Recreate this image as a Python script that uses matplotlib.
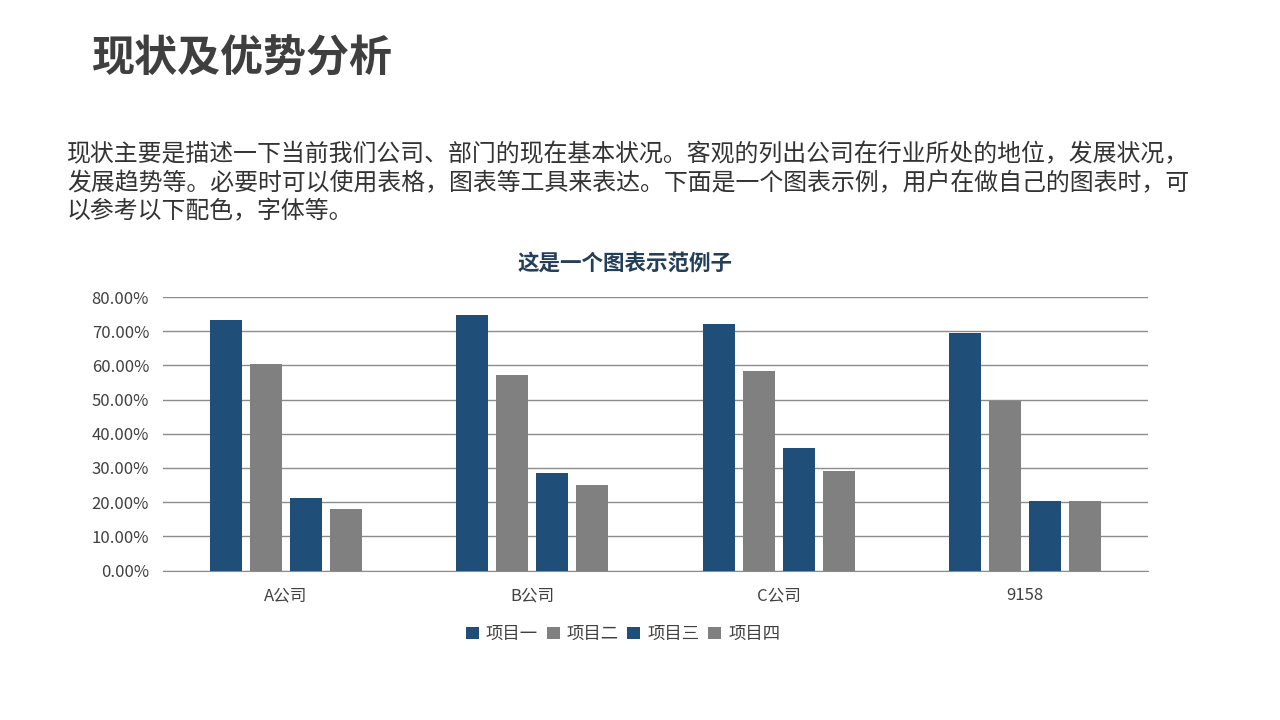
import matplotlib
matplotlib.use("Agg")
import matplotlib.pyplot as plt
import numpy as np
from matplotlib.ticker import FuncFormatter, MultipleLocator

plt.rcParams['font.family'] = ['Noto Sans CJK SC', 'DejaVu Sans']

categories = ["A公司", "B公司", "C公司", "9158"]
series_names = ["项目一", "项目二", "项目三", "项目四"]
s1 = [0.732, 0.747, 0.721, 0.694]
s2 = [0.604, 0.572, 0.583, 0.496]
s3 = [0.212, 0.285, 0.358, 0.203]
s4 = [0.180, 0.250, 0.291, 0.203]
series = [s1, s2, s3, s4]
colors = ["#1F4E79", "#808080", "#1F4E79", "#808080"]

title = "现状及优势分析"
para = ["现状主要是描述一下当前我们公司、部门的现在基本状况。客观的列出公司在行业所处的地位，发展状况，",
        "发展趋势等。必要时可以使用表格，图表等工具来表达。下面是一个图表示例，用户在做自己的图表时，可",
        "以参考以下配色，字体等。"]
chart_title = "这是一个图表示范例子"

fig = plt.figure(figsize=(12.8, 7.2), dpi=100)
fig.text(92/1280, 1-58/720, title, fontsize=31, fontweight='bold', color='#3F3F3F',
         ha='left', va='center')
for i, line in enumerate(para):
    fig.text(67/1280, 1-(155+28.5*i)/720, line, fontsize=17.2, color='#333333',
             ha='left', va='center')
fig.text(625/1280, 1-263/720, chart_title, fontsize=15.5, fontweight='bold', color='#243F5A',
         ha='center', va='center')

ax = fig.add_axes([163/1280, 1-570.5/720, (1148-163)/1280, (570.5-297)/720])
x = np.arange(len(categories))
w = 0.13
step = 0.1626
for i, (vals, c, name) in enumerate(zip(series, colors, series_names)):
    ax.bar(x + (i-1.5)*step, vals, width=w, color=c, label=name, zorder=3)

ax.set_xlim(-0.5, 3.5)
ax.set_ylim(0, 0.8)
ax.yaxis.set_major_locator(MultipleLocator(0.1))
ax.yaxis.set_major_formatter(FuncFormatter(lambda v, p: f"{v*100:.2f}%"))
ax.grid(axis='y', color='#8C8C8C', linewidth=1, zorder=0)
for s in ['top', 'right', 'left']:
    ax.spines[s].set_visible(False)
ax.spines['bottom'].set_color('#8C8C8C')
ax.tick_params(axis='both', length=0, colors='#404040', labelsize=12)
ax.tick_params(axis='y', pad=10)
ax.tick_params(axis='x', pad=12)
ax.set_xticks(x)
ax.set_xticklabels(categories)

leg = fig.legend(loc='center', bbox_to_anchor=(623/1280, 1-634/720), ncol=4, frameon=False,
                 fontsize=12.5, handlelength=0.75, handleheight=0.75, handletextpad=0.4,
                 columnspacing=0.5)
for t in leg.get_texts():
    t.set_color('#404040')

fig.savefig("out.png", dpi=100)
